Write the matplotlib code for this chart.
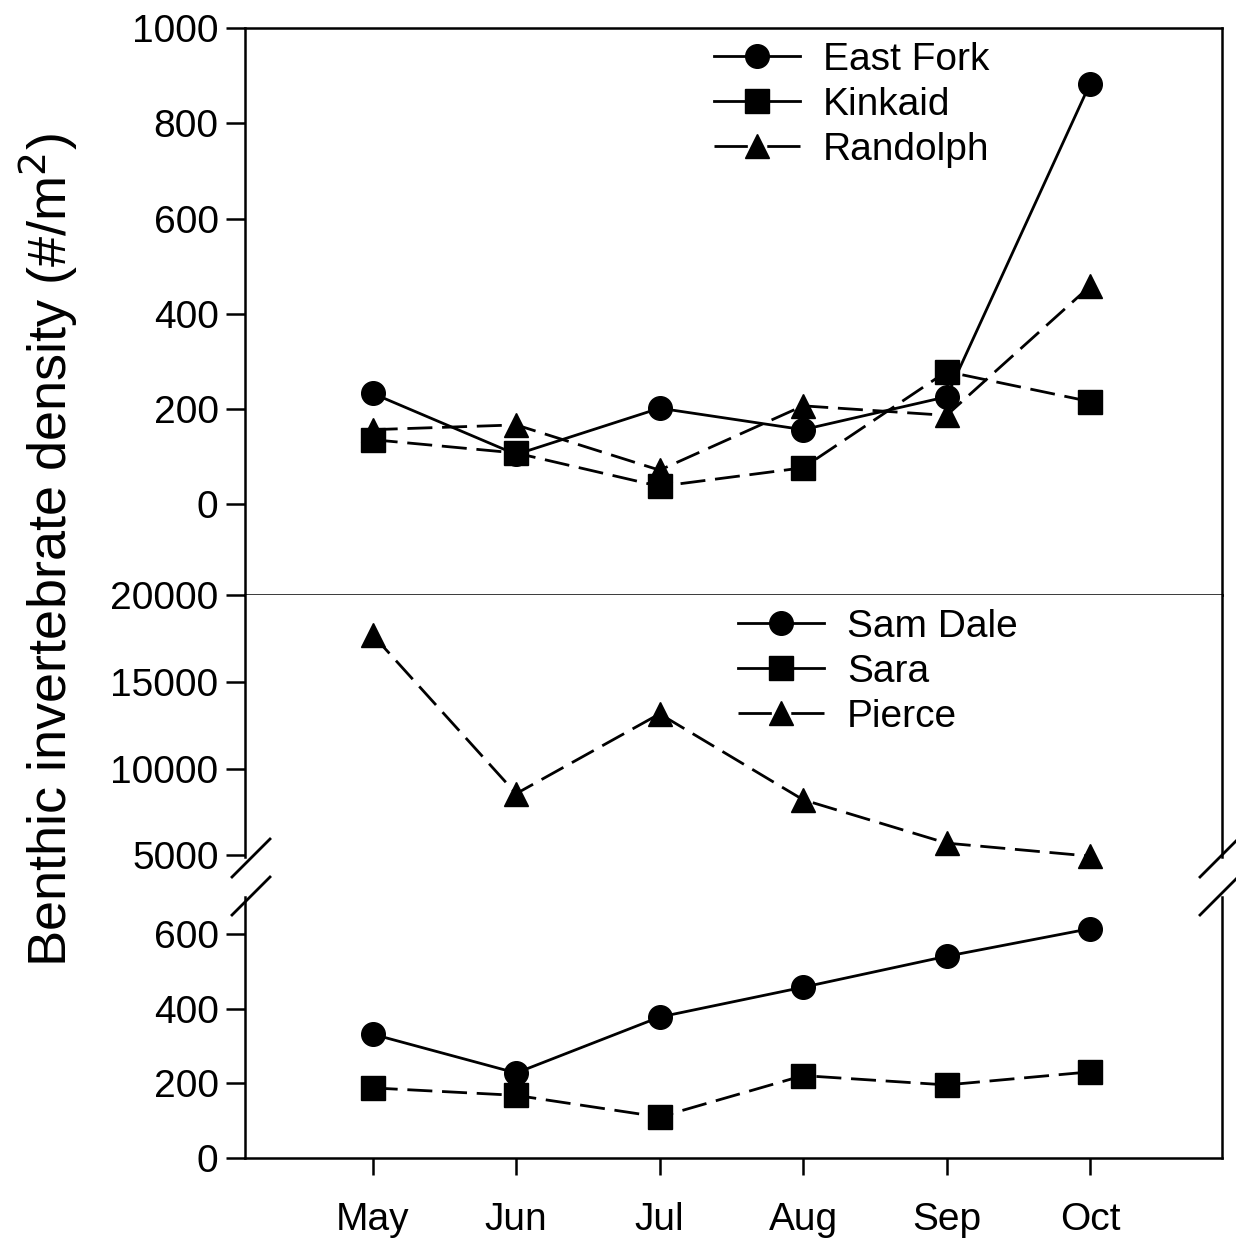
import matplotlib
matplotlib.use("Agg")
import matplotlib.pyplot as plt
from matplotlib.lines import Line2D

plt.rcParams["font.family"] = ["Liberation Sans", "DejaVu Sans"]

months = ["May", "Jun", "Jul", "Aug", "Sep", "Oct"]

# top panel
east_fork = [233, 105, 202, 157, 226, 883]
kinkaid = [136, 108, 38, 77, 279, 216]
randolph = [157, 167, 72, 207, 187, 458]

# bottom panel
sam_dale = [332, 228, 378, 458, 541, 615]
sara = [188, 168, 110, 221, 196, 231]
pierce = [17700, 8550, 13150, 8200, 5700, 4950]

top_ticks = [0, 200, 400, 600, 800, 1000]
hi_ticks = [5000, 10000, 15000, 20000]
lo_ticks = [0, 200, 400, 600]

W, H = 1236, 1240
fig = plt.figure(figsize=(W / 100, H / 100), dpi=100)


def box(x0, y0, x1, y1):
    # pixel box (top-left origin) -> figure fraction rect
    return [x0 / W, 1 - y1 / H, (x1 - x0) / W, (y1 - y0) / H]


ax_top = fig.add_axes(box(245, 28, 1222, 595))
ax_hi = fig.add_axes(box(245, 595, 1222, 857))
ax_lo = fig.add_axes(box(245, 897, 1222, 1158))

x = list(range(len(months)))
lw = 2.0
ms = 17
dash = (9, 3.5)
fs = 28


def draw(ax, ys, marker, dashed):
    kw = dict(color="black", lw=lw, marker=marker, ms=ms, mfc="black", mec="black", clip_on=False)
    line, = ax.plot(x, ys, **kw)
    if dashed:
        line.set_dashes(dash)
    return line


draw(ax_top, east_fork, "o", False)
draw(ax_top, kinkaid, "s", True)
draw(ax_top, randolph, "^", True)

draw(ax_lo, sam_dale, "o", False)
draw(ax_lo, sara, "s", True)
draw(ax_hi, pierce, "^", True)

xlim = (-0.89, 5.92)
for ax in (ax_top, ax_hi, ax_lo):
    ax.set_xlim(*xlim)
    for s in ax.spines.values():
        s.set_linewidth(1.8)
    ax.tick_params(axis="y", direction="out", length=14, width=1.8, labelsize=fs, pad=5)

ax_top.set_ylim(-190, 1000)
ax_top.set_yticks(top_ticks)
ax_top.tick_params(axis="x", bottom=False, labelbottom=False)

ax_hi.set_ylim(4900, 20000)
ax_hi.set_yticks(hi_ticks)
ax_hi.spines["bottom"].set_visible(False)
ax_hi.spines["top"].set_visible(False)
ax_hi.tick_params(axis="x", bottom=False, labelbottom=False)

ax_lo.set_ylim(0, 700)
ax_lo.set_yticks(lo_ticks)
ax_lo.spines["top"].set_visible(False)
ax_lo.set_xticks(x)
ax_lo.set_xticklabels(months)
ax_lo.tick_params(axis="x", direction="out", length=12, width=1.8, labelsize=fs, pad=20)

# break marks
for px in (250, 1218):
    for py in (858, 896):
        fig.add_artist(Line2D([(px - 18) / W, (px + 20) / W],
                              [1 - (py + 19) / H, 1 - (py - 19) / H],
                              color="black", lw=2.0))


def legend_handles():
    return [
        Line2D([], [], color="black", lw=lw, marker="o", ms=ms),
        Line2D([], [], color="black", lw=lw, marker="s", ms=ms),
        Line2D([], [], color="black", lw=lw, marker="^", ms=ms, dashes=(12, 3, 1, 3)),
    ]


leg_kw = dict(loc="upper left", bbox_transform=fig.transFigure, frameon=False, fontsize=fs,
              handlelength=2.2, handletextpad=0.6, labelspacing=0.23,
              borderpad=0, borderaxespad=0)
ax_top.legend(legend_handles(), ["East Fork", "Kinkaid", "Randolph"],
              bbox_to_anchor=(714 / W, 1 - 42 / H), **leg_kw)
ax_lo.legend(legend_handles(), ["Sam Dale", "Sara", "Pierce"],
             bbox_to_anchor=(738 / W, 1 - 609 / H), **leg_kw)

fig.text(48 / W, 1 - 550 / H, "Benthic invertebrate density (#/m$^2$)",
         rotation=90, ha="center", va="center", fontsize=39)

fig.savefig("out.png", dpi=100)
